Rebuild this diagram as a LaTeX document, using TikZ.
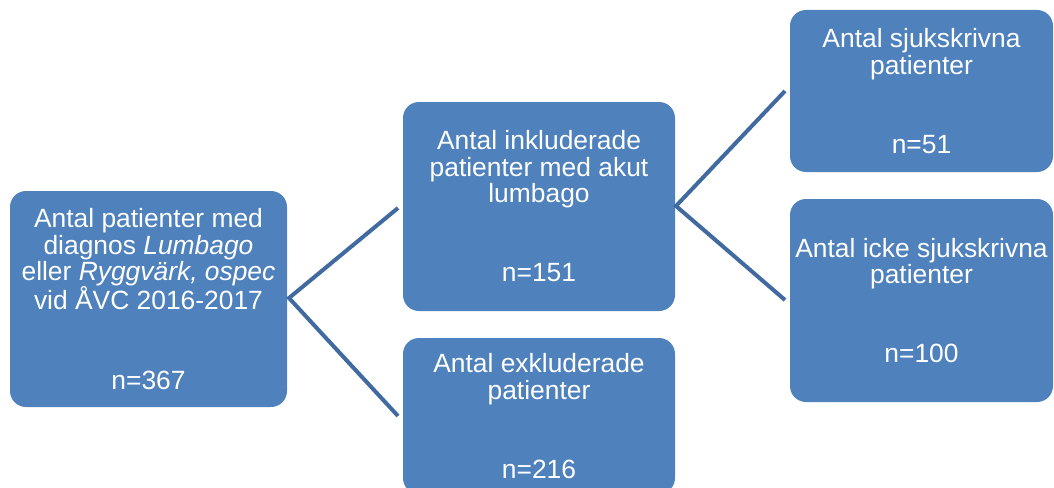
\documentclass[tikz,border=0pt]{standalone}
\usepackage{fontspec}
\setmainfont{Liberation Sans}
\definecolor{boxblue}{RGB}{79,129,189}
\definecolor{linkblue}{RGB}{65,106,160}

\begin{document}
\begin{tikzpicture}[x=1pt,y=-1pt,
    stepbox/.style={draw=none,fill=boxblue,rounded corners=16pt,text=white,
      align=center,inner sep=0pt,
      font=\fontsize{26.4pt}{26.4pt}\selectfont},
    link/.style={draw=linkblue,line width=4pt,line join=miter}]
  \useasboundingbox (0,0) rectangle (1054,487);
  \clip (0,0) rectangle (1054,487);
  % boxes
  \node[stepbox,minimum width=277pt,minimum height=216pt] (pat) at (148.5,299)
    {Antal patienter med\\ diagnos \textit{Lumbago}\\ eller \textit{Ryggvärk, ospec}\\
     vid ÅVC 2016-2017\\[52.8pt] n=367};
  \node[stepbox,minimum width=272pt,minimum height=209pt] (inc) at (539,206.5)
    {Antal inkluderade\\ patienter med akut\\ lumbago\\[52.8pt] n=151};
  \node[stepbox,minimum width=272pt,minimum height=156pt] (exc) at (539,416)
    {Antal exkluderade\\ patienter\\[52.8pt] n=216};
  \node[stepbox,minimum width=263pt,minimum height=162pt] (sjuk) at (921.5,91)
    {Antal sjukskrivna\\ patienter\\[52.8pt] n=51};
  \node[stepbox,minimum width=263pt,minimum height=203pt] (ejsjuk) at (921.5,300.5)
    {Antal icke sjukskrivna\\ patienter\\[52.8pt] n=100};
  % connectors
  \coordinate (forka) at (289,298);
  \coordinate (inca) at (398,208);
  \coordinate (exca) at (398,416);
  \coordinate (forkb) at (676,206);
  \coordinate (sjuka) at (785,91);
  \coordinate (ejsjuka) at (785,300);
  \draw[link] (inca) -- (forka) -- (exca);
  \draw[link] (sjuka) -- (forkb) -- (ejsjuka);
\end{tikzpicture}
\end{document}
